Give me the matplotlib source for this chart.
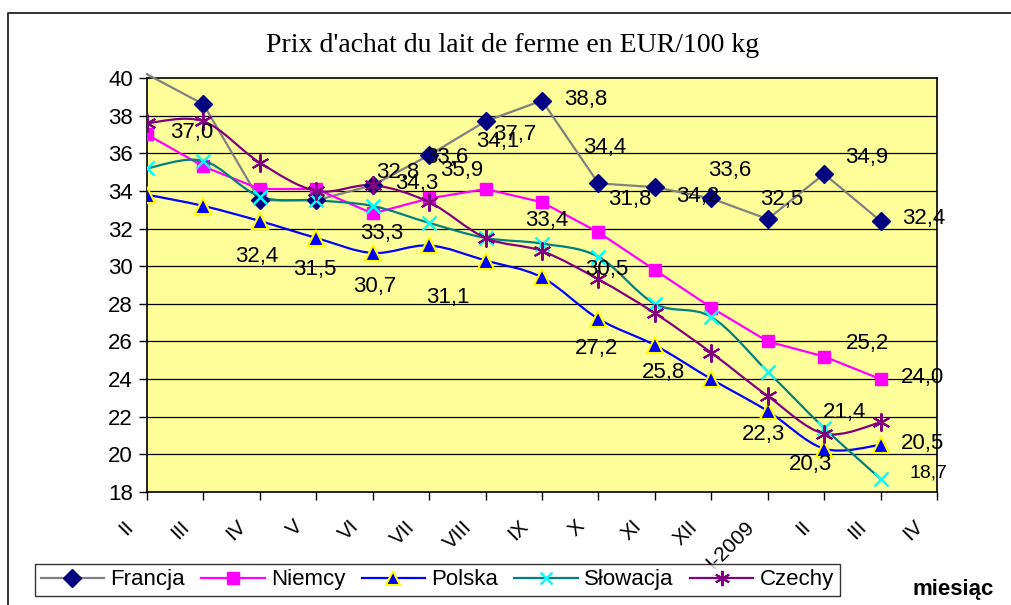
import numpy as np
import matplotlib
matplotlib.use("Agg")
import matplotlib.pyplot as plt
from matplotlib.path import Path
from matplotlib.patches import PathPatch
from matplotlib.lines import Line2D
import matplotlib.transforms as mtransforms

# ---- data (EUR/100 kg) ----
months = ["II", "III", "IV", "V", "VI", "VII", "VIII", "IX", "X", "XI", "XII",
          "I-2009", "II", "III", "IV"]
francja = [40.2, 38.6, 33.5, 33.5, 34.3, 35.9, 37.7, 38.8, 34.4, 34.2, 33.6, 32.5, 34.9, 32.4]
niemcy = [37.0, 35.3, 34.1, 34.1, 32.8, 33.6, 34.1, 33.4, 31.8, 29.8, 27.8, 26.0, 25.2, 24.0]
polska = [33.8, 33.2, 32.4, 31.5, 30.7, 31.1, 30.3, 29.4, 27.2, 25.8, 24.0, 22.3, 20.3, 20.5]
slowacja = [35.2, 35.6, 33.7, 33.5, 33.2, 32.3, 31.5, 31.2, 30.5, 28.0, 27.3, 24.4, 21.4, 18.7]
czechy = [37.6, 37.7, 35.5, 34.0, 34.3, 33.4, 31.5, 30.8, 29.3, 27.5, 25.4, 23.1, 21.1, 21.7]

# data labels as they were placed on the original chart (text, x, y in data units)
data_labels = [
    ("37,0", 0.80, 37.1), ("32,8", 4.45, 35.0), ("34,3", 4.78, 34.4),
    ("33,6", 5.32, 35.8), ("35,9", 5.58, 35.1), ("37,7", 6.52, 37.0),
    ("34,1", 6.22, 36.6), ("33,4", 7.09, 32.45), ("33,3", 4.16, 31.76),
    ("32,4", 1.95, 30.5), ("31,5", 2.98, 29.85), ("30,7", 4.04, 28.9),
    ("31,1", 5.33, 28.36), ("38,8", 7.78, 38.88), ("34,4", 8.12, 36.33),
    ("31,8", 8.56, 33.57), ("34,2", 9.76, 33.68), ("33,6", 10.33, 35.06),
    ("32,5", 11.24, 33.57), ("34,9", 12.76, 35.8), ("32,4", 13.77, 32.56),
    ("30,5", 8.15, 29.85), ("27,2", 7.97, 25.65), ("25,8", 9.15, 24.33),
    ("25,2", 12.76, 25.87), ("24,0", 13.75, 24.06), ("21,4", 12.37, 22.2),
    ("22,3", 10.92, 21.08), ("20,3", 11.75, 19.44), ("20,5", 13.75, 20.6),
]
small_label = ("18,7", 13.84, 19.0)


def smooth_path(xs, ys):
    # Excel-like smoothed line (Catmull-Rom as cubic Bezier)
    pts = np.column_stack([xs, ys]).astype(float)
    n = len(pts)
    verts = [pts[0]]
    codes = [Path.MOVETO]
    for i in range(n - 1):
        p0 = pts[i - 1] if i > 0 else pts[i]
        p1, p2 = pts[i], pts[i + 1]
        p3 = pts[i + 2] if i + 2 < n else pts[i + 1]
        verts += [p1 + (p2 - p0) / 6, p2 - (p3 - p1) / 6, p2]
        codes += [Path.CURVE4] * 3
    return Path(verts, codes)


W, H = 1012, 605
fig = plt.figure(figsize=(W / 100, H / 100), dpi=100)
plt.rcParams["font.family"] = ["Liberation Sans", "DejaVu Sans"]

L, T, R, B = 147, 78, 937, 492
ax = fig.add_axes([L / W, 1 - B / H, (R - L) / W, (B - T) / H])
ax.set_facecolor("#FFFF99")

x = np.arange(len(francja))

# grid
for v in range(20, 40, 2):
    ax.axhline(v, color="black", lw=0.9, zorder=1)

# Francja - straight grey line, navy diamonds
ax.plot(x, francja, color="#808080", lw=1.6, zorder=3, clip_on=False)
ax.plot(x[1:], francja[1:], ls="none", marker="D", ms=9, color="#000080", zorder=4)

# Niemcy - straight magenta line, squares
ax.plot(x, niemcy, color="#FF00FF", lw=1.6, marker="s", ms=9, zorder=3)

# smoothed series
styles = [
    (polska, "#0000FF", dict(marker="^", ms=12, mfc="#0000FF", mec="#FFFF00", mew=1.5)),
    (slowacja, "#008080", dict(marker="x", ms=10, mec="#00FFFF", mew=1.8)),
    (czechy, "#800080", dict(marker=(6, 2, 0), ms=13, mec="#800080", mew=1.5)),
]
for vals, col, mk in styles:
    ax.add_patch(PathPatch(smooth_path(x, vals), fill=False, edgecolor=col, lw=1.6, zorder=3))
    ax.plot(x, vals, ls="none", zorder=4, **mk)

for txt, lx, ly in data_labels:
    ax.text(lx, ly, txt, fontsize=16, ha="center", va="center", zorder=6, clip_on=False)
ax.text(small_label[1], small_label[2], small_label[0], fontsize=14, ha="center",
        va="center", zorder=6, clip_on=False)

ax.set_xlim(0, 14)
ax.set_ylim(18, 40)
ax.set_yticks(range(18, 41, 2))
ax.set_yticklabels([str(v) for v in range(18, 41, 2)], fontsize=16)
ax.set_xticks(range(len(months)))
ax.set_xticklabels(months, fontsize=15, rotation=45, ha="right", va="top")
ax.tick_params(axis="y", direction="out", length=6, width=1, pad=4)
ax.tick_params(axis="x", direction="out", length=6, width=1, pad=12)
offset = mtransforms.ScaledTranslation(-0.10, 0, fig.dpi_scale_trans)
for lab in ax.get_xticklabels():
    lab.set_transform(lab.get_transform() + offset)
for s in ax.spines.values():
    s.set_color("black")
    s.set_linewidth(1.2)

# title
fig.text(513 / W, 1 - 45 / H, "Prix d'achat du lait de ferme en EUR/100 kg",
         fontsize=20, family="Liberation Serif", ha="center", va="center")

# outer frame (left and top edges visible)
fig.add_artist(Line2D([8 / W, 8 / W, 1.0], [0.0, 1 - 13 / H, 1 - 13 / H],
                      transform=fig.transFigure, color="#333333", lw=1.4))

# legend
handles = [
    Line2D([], [], color="#808080", lw=1.6, marker="D", ms=9, mfc="#000080", mec="#000080"),
    Line2D([], [], color="#FF00FF", lw=1.6, marker="s", ms=9),
    Line2D([], [], color="#0000FF", lw=1.6, marker="^", ms=10, mfc="#0000FF", mec="#FFFF00", mew=1.5),
    Line2D([], [], color="#008080", lw=1.6, marker="x", ms=9, mec="#00FFFF", mew=1.8),
    Line2D([], [], color="#800080", lw=1.6, marker=(6, 2, 0), ms=11, mec="#800080", mew=1.5),
]
names = ["Francja", "Niemcy", "Polska", "Słowacja", "Czechy"]
leg = fig.legend(handles, names, loc="lower left", bbox_to_anchor=(35 / W, 1 - 596 / H),
                 ncol=5, fontsize=16, frameon=True, fancybox=False, borderaxespad=0,
                 handlelength=2.85, handletextpad=0.3, columnspacing=0.72, borderpad=0.25)
leg.get_frame().set_edgecolor("black")
leg.get_frame().set_linewidth(1.0)

fig.text(953 / W, 1 - 589 / H, "miesiąc", fontsize=16, fontweight="bold",
         ha="center", va="center")

fig.savefig("out.png", dpi=100)
